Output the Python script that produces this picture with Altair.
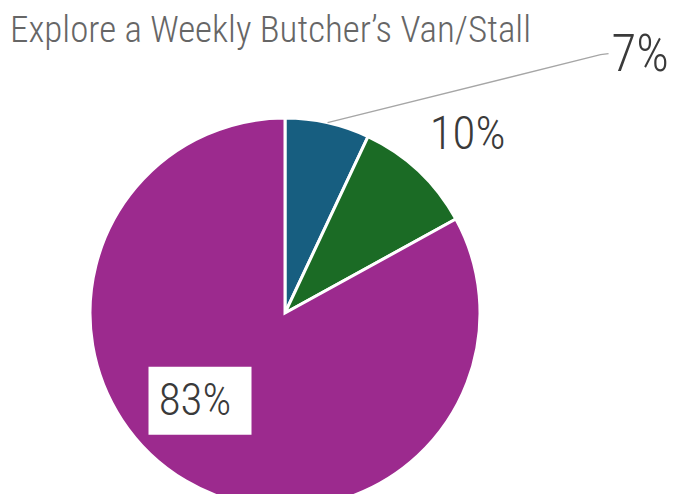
import altair as alt
import pandas as pd
import numpy as np

# ---- data ----
categories = ["Segment A", "Segment B", "Segment C"]
values = [7, 10, 83]
labels = ["7%", "10%", "83%"]
colors = ["#175e80", "#1b6b25", "#9c2a8e"]
title_text = "Explore a Weekly Butcher\u2019s Van/Stall"

# ---- layout / style constants ----
W, H = 660, 436
PAD_TOP = 50
CX, CY, R = 277, 255, 195
FONT = "Roboto Condensed"
TXT = "#3a3a3a"
WEIGHT = 300

df = pd.DataFrame({"category": categories, "value": values,
                   "label": labels, "order": list(range(len(values)))})
total = df["value"].sum()
end = df["value"].cumsum() / total * 2 * np.pi
start = end - df["value"] / total * 2 * np.pi
df["mid"] = (start + end) / 2

def polar(r, a):
    return CX + r * np.sin(a), CY - r * np.cos(a)

# leader line for the small slice (starts at the slice's outer edge)
s = df.iloc[0]
sx, sy = polar(R, s["mid"])
leader = pd.DataFrame({"x": [sx, sx + 273, sx + 281],
                       "y": [sy, sy - 68, sy - 69],
                       "i": [0, 1, 2]})
lab7 = pd.DataFrame({"label": [s["label"]], "x": [sx + 284], "y": [sy - 67]})

m = df.iloc[1]
x10, y10 = polar(255, m["mid"])
lab10 = pd.DataFrame({"label": [m["label"]], "x": [x10 + 8], "y": [y10 + 8]})

b = df.iloc[2]
x83, y83 = polar(110, b["mid"])
x83, y83 = x83 - 29, y83 - 7
lab83 = pd.DataFrame({"label": [b["label"]], "x": [x83 - 5], "y": [y83],
                      "x0": [x83 - 51.5], "x1": [x83 + 51.5],
                      "y0": [y83 - 34], "y1": [y83 + 34]})

pie = alt.Chart(df).mark_arc(outerRadius=R, stroke="white", strokeWidth=3).encode(
    theta=alt.Theta("value:Q", stack=True),
    color=alt.Color("category:N", scale=alt.Scale(domain=categories, range=colors), legend=None),
    order=alt.Order("order:Q"),
    x=alt.value(CX),
    y=alt.value(CY),
)

line = alt.Chart(leader).mark_line(color="#a6a6a6", strokeWidth=1.3).encode(
    x=alt.X("x:Q", scale=None, axis=None),
    y=alt.Y("y:Q", scale=None, axis=None),
    order="i:Q",
)

t7 = alt.Chart(lab7).mark_text(align="left", baseline="middle", font=FONT, fontWeight=WEIGHT,
                                fontSize=51, color=TXT).encode(
    x=alt.X("x:Q", scale=None, axis=None),
    y=alt.Y("y:Q", scale=None, axis=None),
    text="label:N",
)

t10 = alt.Chart(lab10).mark_text(align="center", baseline="middle", font=FONT, fontWeight=WEIGHT,
                                  fontSize=47, color=TXT).encode(
    x=alt.X("x:Q", scale=None, axis=None),
    y=alt.Y("y:Q", scale=None, axis=None),
    text="label:N",
)

box = alt.Chart(lab83).mark_rect(color="white").encode(
    x=alt.X("x0:Q", scale=None, axis=None),
    x2="x1:Q",
    y=alt.Y("y0:Q", scale=None, axis=None),
    y2="y1:Q",
)

t83 = alt.Chart(lab83).mark_text(align="center", baseline="middle", font=FONT, fontWeight=WEIGHT,
                                  fontSize=45, color=TXT).encode(
    x=alt.X("x:Q", scale=None, axis=None),
    y=alt.Y("y:Q", scale=None, axis=None),
    text="label:N",
)

chart = alt.layer(pie, line, t7, t10, box, t83).properties(
    width=W, height=H,
    autosize=alt.AutoSizeParams(type="none"),
    padding={"left": 0, "right": 0, "top": PAD_TOP, "bottom": 0},
    title=alt.TitleParams(title_text, anchor="start", fontSize=37, font=FONT,
                          fontWeight=WEIGHT, color="#666666", dx=2, offset=-20),
).configure_view(stroke=None)

chart.save("out.html", embed_options={"renderer": "svg", "actions": False})
